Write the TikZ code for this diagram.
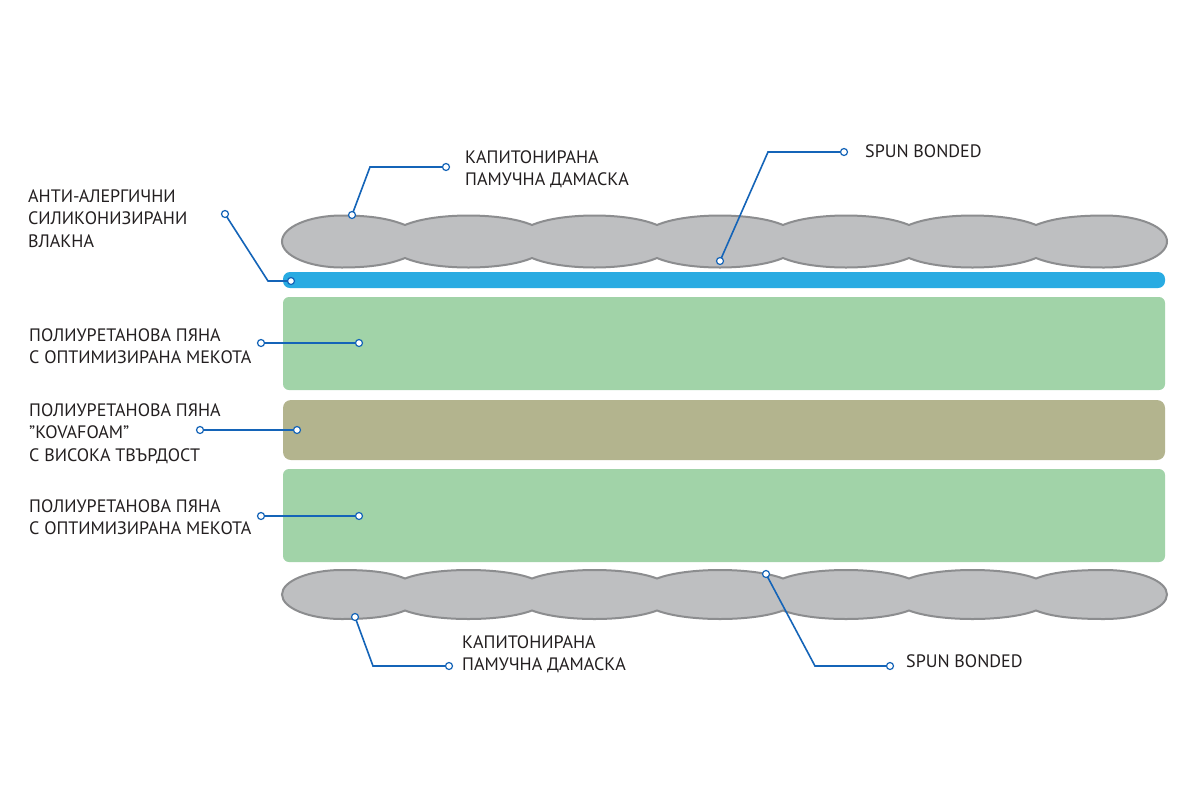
\documentclass[tikz,border=0pt]{standalone}
\usepackage{fontspec}
\setmainfont{PT Sans}
\definecolor{quiltfill}{HTML}{BEBFC1}
\definecolor{quiltline}{HTML}{8C8D8F}
\definecolor{barblue}{HTML}{29ABE2}
\definecolor{foamgreen}{HTML}{A1D3A8}
\definecolor{kova}{HTML}{B3B48E}
\definecolor{leader}{HTML}{1464B8}
\definecolor{txt}{HTML}{231F20}
\tikzset{
 quilt/.style={fill=quiltfill, draw=quiltline, line width=2pt},
 lead/.style={draw=leader, line width=1.6pt},
 dot/.style={circle, draw=leader, fill=white, line width=1.2pt, inner sep=0pt, minimum size=7pt},
 lbl/.style={anchor=base west, align=left, text=txt, font=\fontsize{18}{22.5}\selectfont, inner sep=0pt},
}
\newcommand\quiltlayer[3]{%
 \pgfmathsetmacro\qc{#1}\pgfmathsetmacro\qh{#2}\pgfmathsetmacro\qp{#3}%
 \pgfmathsetmacro\qt{\qc-\qh}\pgfmathsetmacro\qb{\qc+\qh}%
 \pgfmathsetmacro\qpt{\qc-\qp}\pgfmathsetmacro\qpb{\qc+\qp}%
 \pgfmathsetmacro\qct{\qc-(\qh-0.25*\qp)/0.75}\pgfmathsetmacro\qcb{\qc+(\qh-0.25*\qp)/0.75}%
 \pgfmathsetmacro\qet{\qc-0.552*\qh}\pgfmathsetmacro\qeb{\qc+0.552*\qh}%
 \pgfmathsetmacro\qjt{\qpt-6}\pgfmathsetmacro\qjb{\qpb+6}%
 \path[quilt] (282,\qc) .. controls (282,\qet) and (309,\qt) .. (342,\qt) .. controls (372,\qt) and (390,\qjt) .. (405,\qpt)
 \foreach \a/\b in {405/532,532/657,657/783,783/909,909/1036}{ .. controls ({\a+30},\qct) and ({\b-30},\qct) .. (\b,\qpt)}
 .. controls (1051,\qjt) and (1072,\qt) .. (1104,\qt) .. controls (1140,\qt) and (1167,\qet) .. (1167,\qc)
 .. controls (1167,\qeb) and (1140,\qb) .. (1104,\qb) .. controls (1072,\qb) and (1051,\qjb) .. (1036,\qpb)
 \foreach \a/\b in {1036/909,909/783,783/657,657/532,532/405}{ .. controls ({\a-30},\qcb) and ({\b+30},\qcb) .. (\b,\qpb)}
 .. controls (390,\qjb) and (372,\qb) .. (342,\qb) .. controls (309,\qb) and (282,\qeb) .. (282,\qc) -- cycle;
}
\begin{document}
\begin{tikzpicture}[x=1pt,y=-1pt]
\useasboundingbox[fill=white] (0,0) rectangle (1200,801);
% layers
\quiltlayer{241.5}{26}{16.5}
\path[fill=barblue, rounded corners=7pt] (283,272) rectangle (1165,288);
\path[fill=foamgreen, rounded corners=6pt] (283,297) rectangle (1165,390);
\path[fill=kova, rounded corners=8pt] (283,400) rectangle (1165,460);
\path[fill=foamgreen, rounded corners=6pt] (283,469) rectangle (1165,562);
\quiltlayer{594.5}{24.5}{16}
% leader coordinates
\coordinate (a1) at (352,215); \coordinate (a2) at (370,167); \coordinate (a3) at (446,167);
\coordinate (b1) at (720,261); \coordinate (b2) at (768,152); \coordinate (b3) at (844,152);
\coordinate (c1) at (225,214); \coordinate (c2) at (268,281); \coordinate (c3) at (291,281);
\coordinate (d1) at (261,343); \coordinate (d2) at (359,343);
\coordinate (e1) at (200,430); \coordinate (e2) at (297,430);
\coordinate (f1) at (261,516); \coordinate (f2) at (359,516);
\coordinate (g1) at (355,617); \coordinate (g2) at (373,666); \coordinate (g3) at (449,666);
\coordinate (h1) at (766,574); \coordinate (h2) at (815,666); \coordinate (h3) at (890,666);
\draw[lead] (a1) -- (a2) -- (a3);
\draw[lead] (b1) -- (b2) -- (b3);
\draw[lead] (c1) -- (c2) -- (c3);
\draw[lead] (d1) -- (d2);
\draw[lead] (e1) -- (e2);
\draw[lead] (f1) -- (f2);
\draw[lead] (g1) -- (g2) -- (g3);
\draw[lead] (h1) -- (h2) -- (h3);
\foreach \p in {a1,a3,b1,b3,c1,c3,d1,d2,e1,e2,f1,f2,g1,g3,h1,h3}{\node[dot] (n\p) at (\p) {};}
% labels (base anchor = last line baseline)
\node[lbl] (ta) at (465,185.5) {КАПИТОНИРАНА\\ПАМУЧНА ДАМАСКА};
\node[lbl] (tb) at (865,157) {SPUN BONDED};
\node[lbl] (tc) at (28,247) {АНТИ-АЛЕРГИЧНИ\\СИЛИКОНИЗИРАНИ\\ВЛАКНА};
\node[lbl] (td) at (29,363.5) {ПОЛИУРЕТАНОВА ПЯНА\\С ОПТИМИЗИРАНА МЕКОТА};
\node[lbl] (te) at (29,461) {ПОЛИУРЕТАНОВА ПЯНА\\”KOVAFOAM”\\С ВИСОКА ТВЪРДОСТ};
\node[lbl] (tf) at (29,534.5) {ПОЛИУРЕТАНОВА ПЯНА\\С ОПТИМИЗИРАНА МЕКОТА};
\node[lbl] (tg) at (462,670.5) {КАПИТОНИРАНА\\ПАМУЧНА ДАМАСКА};
\node[lbl] (th) at (906,667) {SPUN BONDED};
\end{tikzpicture}
\end{document}
